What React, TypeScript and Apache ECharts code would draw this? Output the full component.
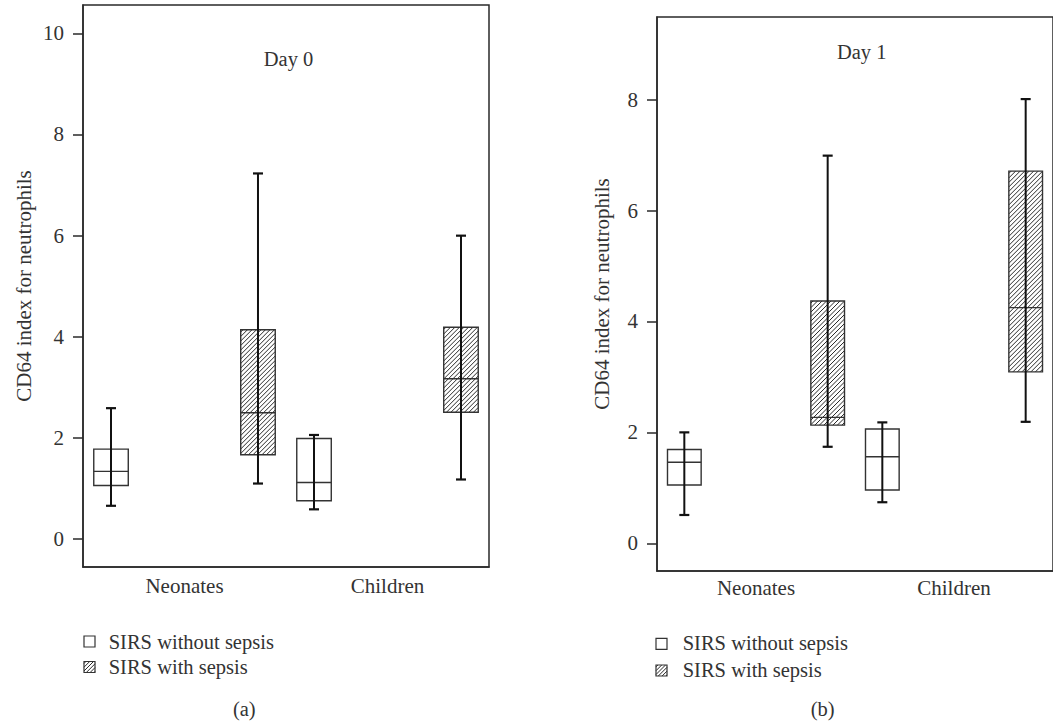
import React, { useEffect, useRef } from 'react';
import * as echarts from 'echarts';

const categories = ['Neonates', 'Children'];
const seriesNames = ['SIRS without sepsis', 'SIRS with sepsis'];
const panelTitles = ['Day 0', 'Day 1'];
const captions = ['(a)', '(b)'];
const yAxisName = 'CD64 index for neutrophils';
const yTicksDay0 = [0, 2, 4, 6, 8, 10];
const yTicksDay1 = [0, 2, 4, 6, 8];
// each row: [min, q1, median, q3, max] per category
const day0Without = [
  [0.66, 1.06, 1.34, 1.78, 2.59],
  [0.59, 0.76, 1.12, 1.99, 2.06],
];
const day0With = [
  [1.1, 1.67, 2.5, 4.14, 7.23],
  [1.18, 2.51, 3.17, 4.19, 6.0],
];
const day1Without = [
  [0.51, 1.05, 1.46, 1.69, 2.0],
  [0.74, 0.96, 1.56, 2.06, 2.18],
];
const day1With = [
  [1.74, 2.13, 2.27, 4.37, 6.99],
  [2.19, 3.09, 4.25, 6.71, 8.01],
];

const FONT = "'Liberation Serif', serif";
const TEXT = '#333';
const LINE = '#2a2a2a';

function hatchLines(x0: number, y0: number, x1: number, y1: number, step: number, lw: number) {
  const out: any[] = [];
  for (let c = x0 + y0 + step / 2; c < x1 + y1; c += step) {
    const sx = Math.max(x0, c - y1);
    const sy = c - sx;
    const ex = Math.min(x1, c - y0);
    const ey = c - ex;
    out.push({
      type: 'line',
      shape: { x1: sx, y1: sy, x2: ex, y2: ey },
      style: { stroke: '#2a2a2a', lineWidth: lw },
      silent: true,
    });
  }
  return out;
}

function makeRenderItem(offset: number, hatched: boolean) {
  return (params: any, api: any) => {
    const cat = api.value(0);
    const band = api.size([1, 0])[0];
    const cx = api.coord([cat, 0])[0] + offset * band;
    const w = band * 0.17;
    const yMin = api.coord([cat, api.value(1)])[1];
    const yQ1 = api.coord([cat, api.value(2)])[1];
    const yMed = api.coord([cat, api.value(3)])[1];
    const yQ3 = api.coord([cat, api.value(4)])[1];
    const yMax = api.coord([cat, api.value(5)])[1];
    const x0 = cx - w / 2;
    const x1 = cx + w / 2;
    const children: any[] = [];
    children.push({
      type: 'rect',
      shape: { x: x0, y: yQ3, width: w, height: yQ1 - yQ3 },
      style: { fill: '#fff', stroke: 'none' },
    });
    if (hatched) children.push(...hatchLines(x0, yQ3, x1, yQ1, 4.5, 1));
    children.push({
      type: 'rect',
      shape: { x: x0, y: yQ3, width: w, height: yQ1 - yQ3 },
      style: { fill: 'none', stroke: '#333', lineWidth: 1.4 },
    });
    children.push({
      type: 'line',
      shape: { x1: x0, y1: yMed, x2: x1, y2: yMed },
      style: { stroke: '#333', lineWidth: 1.4 },
    });
    children.push({
      type: 'line',
      shape: { x1: cx, y1: yMin, x2: cx, y2: yMax },
      style: { stroke: '#111', lineWidth: 2 },
    });
    children.push({
      type: 'line',
      shape: { x1: cx - 5, y1: yMax, x2: cx + 5, y2: yMax },
      style: { stroke: '#111', lineWidth: 2.2 },
    });
    children.push({
      type: 'line',
      shape: { x1: cx - 5, y1: yMin, x2: cx + 5, y2: yMin },
      style: { stroke: '#111', lineWidth: 2.2 },
    });
    return { type: 'group', children };
  };
}

function toRows(arr: number[][]) {
  return arr.map((v, i) => [i, ...v]);
}

function yAxis(gridIndex: number, min: number, max: number, ticks: number[], nameGap: number) {
  return {
    type: 'value',
    gridIndex,
    min,
    max,
    name: yAxisName,
    nameLocation: 'middle',
    nameRotate: 90,
    nameGap,
    nameTextStyle: { fontFamily: FONT, fontSize: 21, color: TEXT },
    splitLine: { show: false },
    axisLine: { show: true, onZero: false, lineStyle: { color: LINE, width: 1.5 } },
    axisTick: { show: true, inside: false, length: 10, customValues: ticks, lineStyle: { color: LINE, width: 1.5 } },
    axisLabel: { fontFamily: FONT, fontSize: 21, color: TEXT, margin: 19, customValues: ticks },
  };
}

function xAxis(gridIndex: number, margin: number) {
  return {
    type: 'category',
    gridIndex,
    data: categories,
    boundaryGap: true,
    axisTick: { show: false },
    splitLine: { show: false },
    axisLine: { show: true, onZero: false, lineStyle: { color: LINE, width: 1.5 } },
    axisLabel: { fontFamily: FONT, fontSize: 21, color: TEXT, margin },
  };
}

function legendBlock(x: number, y1: number, y2: number, tx: number, ty1: number, ty2: number) {
  const s = 11;
  return [
    {
      type: 'rect',
      shape: { x, y: y1, width: s, height: s },
      style: { fill: '#fff', stroke: '#333', lineWidth: 1.2 },
    },
    {
      type: 'text',
      x: tx,
      y: ty1,
      style: { text: seriesNames[0], fontFamily: FONT, fontSize: 20.5, fill: TEXT, textAlign: 'left', textVerticalAlign: 'middle' },
    },
    {
      type: 'rect',
      shape: { x, y: y2, width: s, height: s },
      style: { fill: '#fff', stroke: 'none' },
    },
    ...hatchLines(x, y2, x + s, y2 + s, 3.8, 1),
    {
      type: 'rect',
      shape: { x, y: y2, width: s, height: s },
      style: { fill: 'none', stroke: '#333', lineWidth: 1.2 },
    },
    {
      type: 'text',
      x: tx,
      y: ty2,
      style: { text: seriesNames[1], fontFamily: FONT, fontSize: 20.5, fill: TEXT, textAlign: 'left', textVerticalAlign: 'middle' },
    },
  ];
}

function centeredText(text: string, x: number, y: number, size: number) {
  return {
    type: 'text',
    x,
    y,
    style: { text, fontFamily: FONT, fontSize: size, fill: TEXT, textAlign: 'center', textVerticalAlign: 'middle' },
  };
}

export default function App() {
  const ref = useRef<HTMLDivElement>(null);
  useEffect(() => {
    if (!ref.current) return;
    const chart = echarts.init(ref.current, undefined, { renderer: 'svg' });
    const off = 0.362;
    chart.setOption({
      animation: false,
      backgroundColor: '#fff',
      textStyle: { fontFamily: FONT },
      grid: [
        { left: 83, top: 5, width: 406, height: 562, show: true, borderColor: LINE, borderWidth: 1.5, backgroundColor: 'transparent', containLabel: false },
        { left: 657, top: 17, width: 405, height: 554, show: true, borderColor: LINE, borderWidth: 1.5, backgroundColor: 'transparent', containLabel: false },
      ],
      xAxis: [xAxis(0, 8), xAxis(1, 6)],
      yAxis: [yAxis(0, -0.55, 10.56, yTicksDay0, 49), yAxis(1, -0.5, 9.49, yTicksDay1, 45)],
      series: [
        { type: 'custom', name: seriesNames[0], xAxisIndex: 0, yAxisIndex: 0, data: toRows(day0Without), encode: { x: 0, y: [1, 2, 3, 4, 5] }, renderItem: makeRenderItem(-off, false) },
        { type: 'custom', name: seriesNames[1], xAxisIndex: 0, yAxisIndex: 0, data: toRows(day0With), encode: { x: 0, y: [1, 2, 3, 4, 5] }, renderItem: makeRenderItem(off, true) },
        { type: 'custom', name: seriesNames[0], xAxisIndex: 1, yAxisIndex: 1, data: toRows(day1Without), encode: { x: 0, y: [1, 2, 3, 4, 5] }, renderItem: makeRenderItem(-off, false) },
        { type: 'custom', name: seriesNames[1], xAxisIndex: 1, yAxisIndex: 1, data: toRows(day1With), encode: { x: 0, y: [1, 2, 3, 4, 5] }, renderItem: makeRenderItem(off, true) },
      ],
      graphic: [
        centeredText(panelTitles[0], 288.5, 58.7, 20.5),
        centeredText(panelTitles[1], 861.7, 51.7, 20.5),
        ...legendBlock(84, 636, 661.5, 108.7, 641.7, 666.7),
        ...legendBlock(656, 638.3, 665, 682.7, 643.3, 670),
        centeredText(captions[0], 244.3, 709, 20.5),
        centeredText(captions[1], 822.7, 709, 20.5),
      ],
    });
    return () => chart.dispose();
  }, []);
  return <div ref={ref} style={{ position: 'absolute', left: 0, top: 0, width: 1053, height: 723 }} />;
}
